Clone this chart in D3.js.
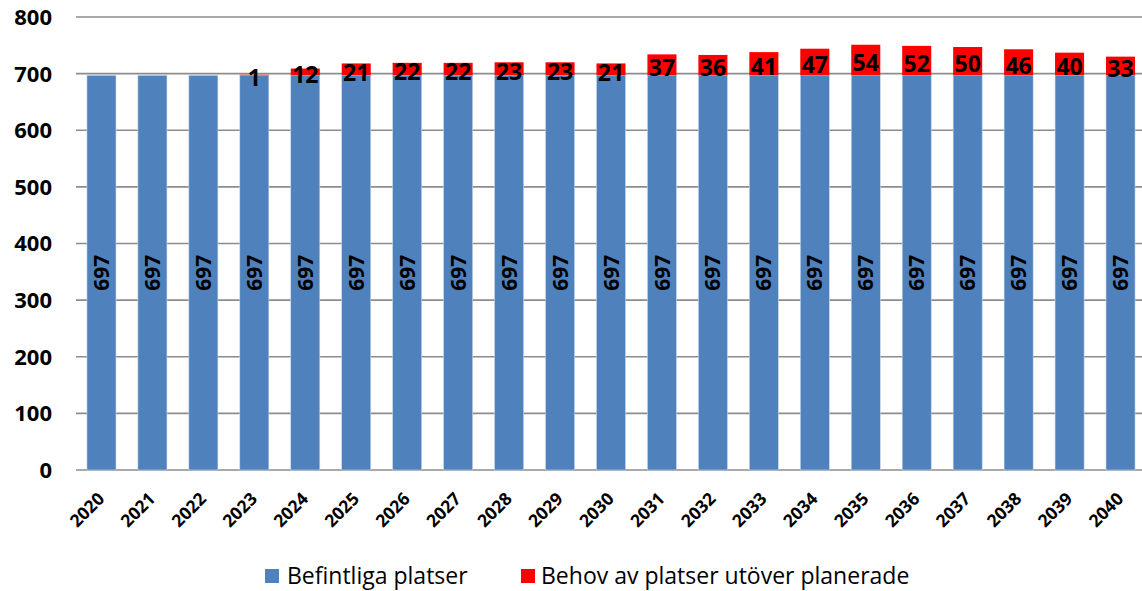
<!DOCTYPE html>
<html><head><meta charset="utf-8">
<script src="https://cdn.jsdelivr.net/npm/d3@7"></script>
<style>body{margin:0;background:#fff;}svg{display:block;font-family:"Open Sans","Noto Sans",sans-serif;}</style>
</head><body><svg id="c" width="1142" height="591"></svg>
<script>
const years = ["2020","2021","2022","2023","2024","2025","2026","2027","2028","2029","2030","2031","2032","2033","2034","2035","2036","2037","2038","2039","2040"];
const befintliga = [697,697,697,697,697,697,697,697,697,697,697,697,697,697,697,697,697,697,697,697,697];
const behov = [0,0,0,1,12,21,22,22,23,23,21,37,36,41,47,54,52,50,46,40,33];
const yTicks = [0,100,200,300,400,500,600,700,800];
const seriesNames = ["Befintliga platser","Behov av platser utöver planerade"];
const colors = ["#4F81BD","#FF0000"];

const svg = d3.select("#c");
const x = d3.scaleBand().domain(years).range([76,1146]).paddingInner(0.43).paddingOuter(0.215);
const y = d3.scaleLinear().domain([0,800]).range([470,17]);

// gridlines
svg.append("g").selectAll("line").data(yTicks).join("line")
  .attr("x1",76).attr("x2",1142).attr("y1",d=>y(d)).attr("y2",d=>y(d))
  .attr("stroke","#8c8c8c").attr("stroke-width",1.6);

// y axis labels
svg.append("g").selectAll("text").data(yTicks).join("text")
  .attr("x",52).attr("y",d=>y(d)).attr("dy","0.36em").attr("text-anchor","end")
  .attr("font-size",22).attr("font-weight","bold").text(d=>d);

const data = years.map((yr,i)=>({yr,a:befintliga[i],b:behov[i]}));

// blue bars
svg.append("g").selectAll("rect").data(data).join("rect")
  .attr("x",d=>x(d.yr)).attr("width",x.bandwidth())
  .attr("y",d=>y(d.a)).attr("height",d=>y(0)-y(d.a))
  .attr("fill",colors[0]).attr("stroke","#c9d6ea").attr("stroke-width",0.6);
// red bars
svg.append("g").selectAll("rect").data(data.filter(d=>d.b>0)).join("rect")
  .attr("x",d=>x(d.yr)).attr("width",x.bandwidth())
  .attr("y",d=>y(d.a+d.b)).attr("height",d=>y(d.a)-y(d.a+d.b))
  .attr("fill",colors[1]);

// blue labels rotated
svg.append("g").selectAll("text").data(data).join("text")
  .attr("transform",d=>`translate(${x(d.yr)+x.bandwidth()/2},${y(d.a/2)}) rotate(-90)`)
  .attr("text-anchor","middle").attr("dy","0.36em")
  .attr("font-size",21).attr("font-weight","bold").attr("fill","#000").text(d=>d.a);

// red labels
svg.append("g").selectAll("text").data(data.filter(d=>d.b>0)).join("text")
  .attr("x",d=>x(d.yr)+x.bandwidth()/2).attr("y",d=>y(d.a+d.b/2)+3)
  .attr("text-anchor","middle").attr("dy","0.36em")
  .attr("font-size",23).attr("font-weight","bold").attr("fill","#000").text(d=>d.b);

// x labels
svg.append("g").selectAll("text").data(years).join("text")
  .attr("transform",d=>`translate(${x(d)+x.bandwidth()/2+4},${500}) rotate(-45)`)
  .attr("text-anchor","end")
  .attr("font-size",17.5).attr("font-weight","bold").text(d=>d);

// legend
const leg = [{n:seriesNames[0],c:colors[0],sx:265,tx:287},{n:seriesNames[1],c:colors[1],sx:521,tx:541}];
const lg = svg.append("g");
lg.selectAll("rect").data(leg).join("rect").attr("x",d=>d.sx).attr("y",569).attr("width",14).attr("height",14).attr("fill",d=>d.c);
lg.selectAll("text").data(leg).join("text").attr("x",d=>d.tx).attr("y",576).attr("dy","0.36em")
  .attr("font-size",23).attr("fill","#000").text(d=>d.n);
</script></body></html>
